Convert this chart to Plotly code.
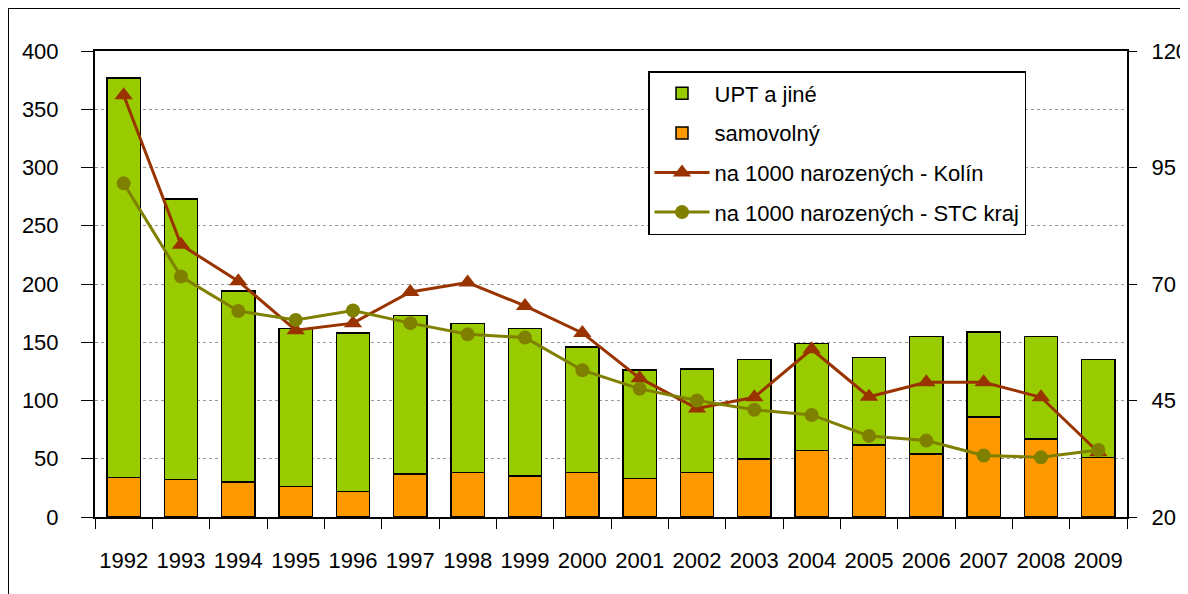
import plotly.graph_objects as go

years = [str(y) for y in range(1992, 2010)]
total = [377, 273, 194, 162, 158, 173, 166, 162, 146, 126, 127, 135, 149, 137, 155, 159, 155, 135]
samovolny = [34, 32, 30, 26, 22, 37, 38, 35, 38, 33, 38, 50, 57, 62, 54, 86, 67, 51]
upt = [t - s for t, s in zip(total, samovolny)]
kolin = [110.5, 78.4, 70.6, 60.1, 61.6, 68.3, 70.3, 65.3, 59.5, 49.8, 43.3, 45.7, 56.0, 45.8, 48.9, 48.9, 45.7, 33.9]
stc = [91.6, 71.6, 64.2, 62.3, 64.3, 61.6, 59.2, 58.5, 51.5, 47.5, 45.0, 43.0, 41.9, 37.4, 36.4, 33.2, 32.8, 34.4]

FONT = "Liberation Sans, Arial, sans-serif"
FS = 22

# The page body adds an 8px offset; figure is sized to fill the rest of the window.
ML, MR, MT, MB = 87, 61, 43, 77
PW = 1180 - ML - MR
PH = 586 - MT - MB

fig = go.Figure()
fig.add_trace(go.Bar(x=years, y=samovolny, name="samovolný", marker=dict(color="#FF9900", line=dict(color="#000000", width=1.5)),
                     legendrank=2, legendgroup="b"))
fig.add_trace(go.Bar(x=years, y=upt, name="UPT a jiné", marker=dict(color="#99CC00", line=dict(color="#000000", width=1.5)),
                     legendrank=1, legendgroup="a"))
fig.add_trace(go.Scatter(x=years, y=kolin, name="na 1000 narozených - Kolín", yaxis="y2", mode="lines+markers",
                         line=dict(color="#993300", width=3), marker=dict(symbol="triangle-up", size=16, color="#993300"),
                         legendrank=3, legendgroup="c"))
fig.add_trace(go.Scatter(x=years, y=stc, name="na 1000 narozených - STC kraj", yaxis="y2", mode="lines+markers",
                         line=dict(color="#808000", width=3), marker=dict(symbol="circle", size=14, color="#808000"),
                         legendrank=4, legendgroup="d"))

fig.update_layout(
    width=1180, height=586,
    margin=dict(l=ML, r=MR, t=MT, b=MB, autoexpand=False),
    paper_bgcolor="white", plot_bgcolor="white",
    barmode="stack", bargap=0.42,
    font=dict(family=FONT, size=FS, color="#000000"),
    showlegend=True,
    legend=dict(x=(648 - 95) / PW, y=(517 - 71) / PH, xanchor="left", yanchor="top",
                bgcolor="white", bordercolor="#000000", borderwidth=1.5,
                font=dict(family=FONT, size=FS), traceorder="grouped", tracegroupgap=8,
                itemwidth=55),
    xaxis=dict(type="category", range=[-0.5, len(years) - 0.5], tickson="boundaries", ticks="outside", ticklen=10,
               tickcolor="#000000",
               showline=True, linecolor="#000000", linewidth=2, mirror=True, showgrid=False,
               tickangle=0, automargin=False, ticklabelstandoff=23,
               tickfont=dict(family=FONT, size=FS)),
    yaxis=dict(range=[0, 400], tickvals=[0, 50, 100, 150, 200, 250, 300, 350, 400], ticks="outside", ticklen=12,
               tickcolor="#000000", showline=True, linecolor="#000000", linewidth=2, automargin=False,
               ticklabelstandoff=18,
               showgrid=True, gridcolor="#999999", griddash="dot", gridwidth=1, zeroline=False,
               tickfont=dict(family=FONT, size=FS)),
    yaxis2=dict(range=[20, 120], tickvals=[20, 45, 70, 95, 120], overlaying="y", side="right",
                ticks="outside", ticklen=8, tickcolor="#000000", showline=True, linecolor="#000000", linewidth=2,
                ticklabelstandoff=10,
                showgrid=False, zeroline=False, automargin=False, tickfont=dict(family=FONT, size=FS)),
    shapes=[dict(type="rect", xref="paper", yref="paper", x0=-ML / PW, x1=1.3, y0=-0.4, y1=1 + MT / PH,
                 line=dict(color="#000000", width=2), fillcolor="rgba(0,0,0,0)", layer="below")],
)

fig.write_html("out.html")
